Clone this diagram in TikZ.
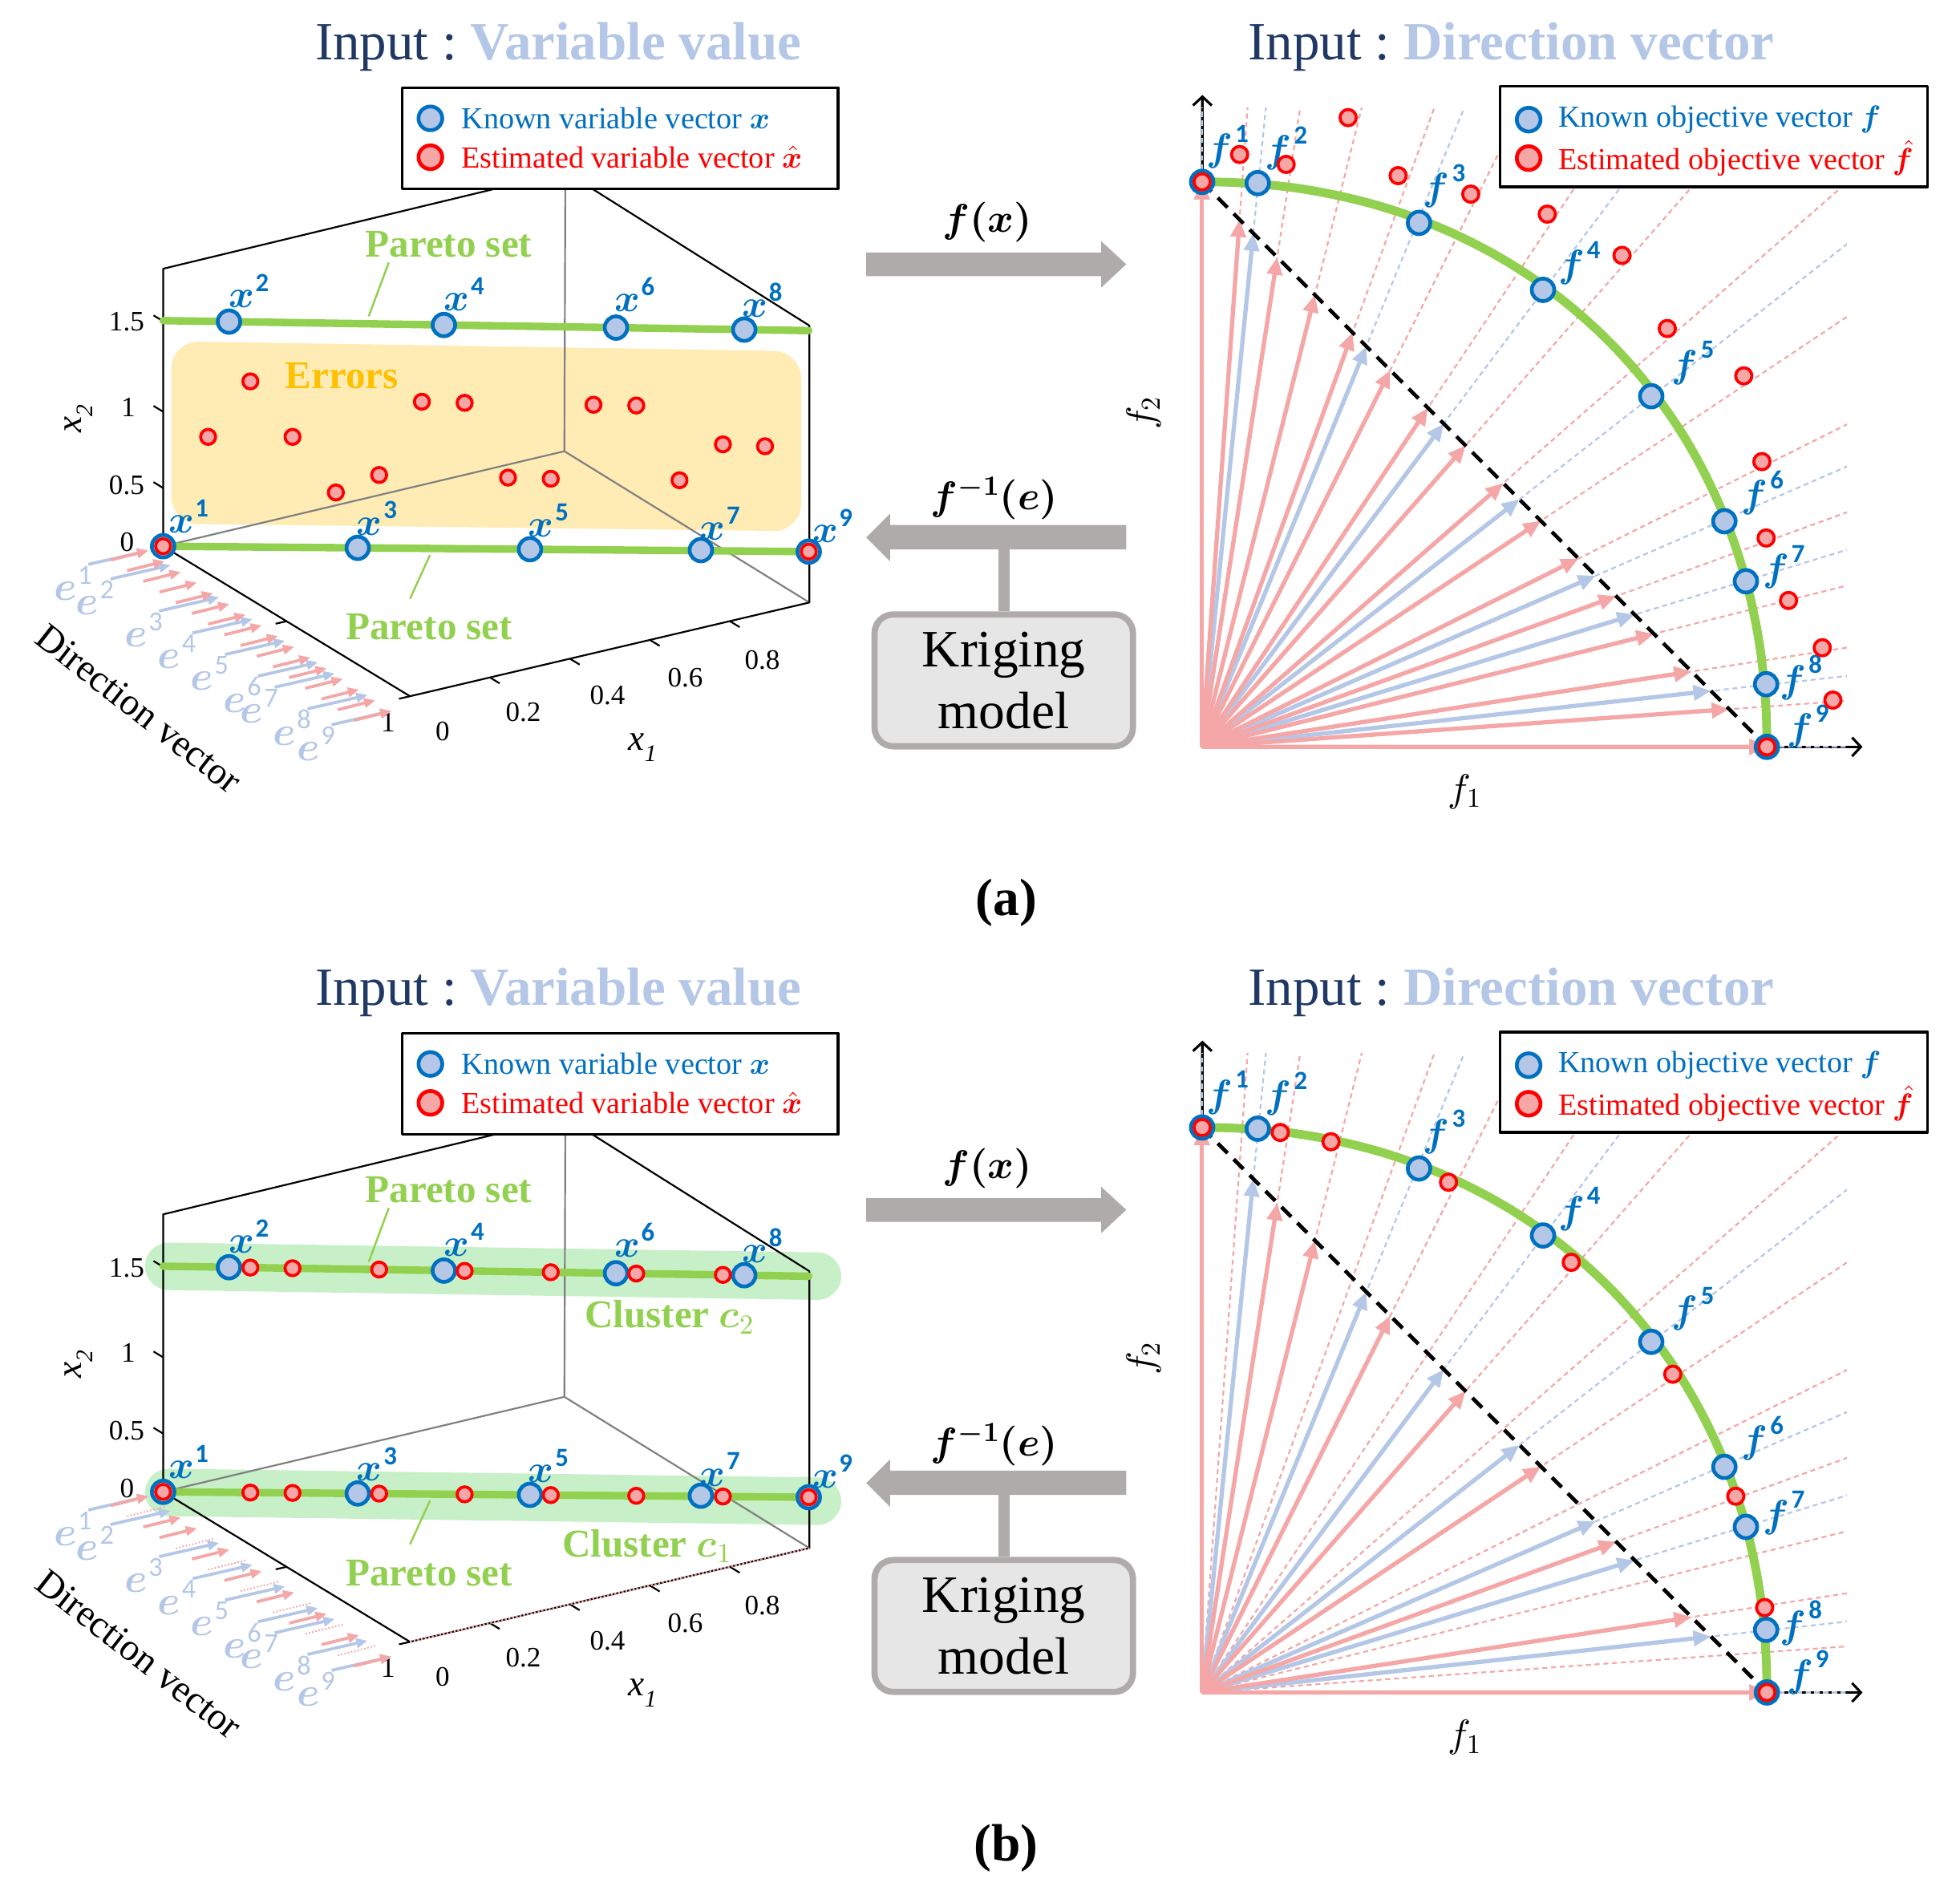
\documentclass[tikz,border=0pt]{standalone}
\usepackage{fontspec}
\setmainfont{Liberation Serif}
\newfontfamily\supfont{Carlito}
\DeclareFontShape{OML}{cmm}{m}{it}{<->cmmi10}{}
\DeclareFontShape{OML}{cmm}{b}{it}{<->cmmib10}{}
\DeclareFontShape{OT1}{cmr}{m}{n}{<->cmr10}{}
\DeclareFontShape{OT1}{cmr}{bx}{n}{<->cmbx10}{}
\DeclareFontShape{OMS}{cmsy}{m}{n}{<->cmsy10}{}
\DeclareFontShape{OMS}{cmsy}{b}{n}{<->cmbsy10}{}
\DeclareFontShape{OMX}{cmex}{m}{n}{<->cmex10}{}
\usepackage{bm}
\usepackage{graphicx}
\usetikzlibrary{arrows.meta,calc}
\pgfdeclarelayer{bg}
\pgfsetlayers{bg,main}
\definecolor{kblue}{RGB}{0,112,192}
\definecolor{kfill}{RGB}{180,199,231}
\definecolor{kred}{RGB}{255,0,0}
\definecolor{rfill}{RGB}{245,166,166}
\definecolor{pinkc}{RGB}{245,166,166}
\definecolor{lblue}{RGB}{180,199,231}
\definecolor{pgreen}{RGB}{146,208,80}
\definecolor{bandc}{RGB}{200,240,200}
\definecolor{errfill}{RGB}{255,235,180}
\definecolor{errtext}{RGB}{255,192,0}
\definecolor{garrow}{RGB}{175,171,171}
\definecolor{krfill}{RGB}{231,230,230}
\definecolor{navy}{RGB}{32,56,100}
\definecolor{axgrey}{RGB}{128,128,128}
\newcommand{\fsz}[1]{\fontsize{#1pt}{#1pt}\selectfont}
\newcommand{\vlab}[2]{$\bm{#1}$\kern1pt\raisebox{13pt}{\supfont\bfseries\fsz{21}#2}}
\newcommand{\flab}[2]{$\bm{#1}$\kern2pt\raisebox{15pt}{\supfont\bfseries\fsz{21}#2}}
\newcommand{\elabel}[2]{$\bm{#1}$\kern1pt\raisebox{13pt}{\supfont\fsz{22}#2}}
\tikzset{
  bpt/.style={circle,draw=kblue,fill=kfill,line width=3pt,minimum size=18pt,inner sep=0pt},
  lbpt/.style={bpt,minimum size=19pt},
  rpt/.style={circle,draw=kred,fill=rfill,line width=2.4pt,minimum size=12pt,inner sep=0pt},
  rptR/.style={rpt,minimum size=13pt},
  lrpt/.style={circle,draw=kred,fill=rfill,line width=3pt,minimum size=19pt,inner sep=0pt},
  ttl/.style={anchor=base,inner sep=0pt,font=\fsz{43}},
  lgd/.style={anchor=west,inner sep=0pt,font=\fsz{24.5}},
  ticklab/.style={inner sep=0pt,font=\fsz{22.5}},
  vlabst/.style={inner sep=0pt,text=kblue,font=\fsz{31}},
  elab/.style={inner sep=0pt,text=lblue,font=\fsz{33}},
  grnlab/.style={inner sep=0pt,text=pgreen,font=\fsz{31.5}\bfseries},
  boxline/.style={line width=1.4pt},
  backline/.style={line width=1.4pt,draw=axgrey},
  parline/.style={draw=pgreen,line width=6pt,line cap=round},
  leader/.style={draw=pgreen,line width=1.6pt},
  parrow/.style={draw=pinkc,line width=3.4pt,-{Triangle[length=14pt,width=12pt]}},
  barrow/.style={draw=lblue,line width=3.4pt,-{Triangle[length=14pt,width=12pt]}},
  pdash/.style={draw=pinkc,line width=1.4pt,dash pattern=on 4pt off 3pt},
  bdash/.style={draw=lblue,line width=1.4pt,dash pattern=on 4pt off 3pt},
  sparrow/.style={draw=pinkc,line width=2.4pt,-{Triangle[length=9pt,width=7.5pt]}},
  sbarrow/.style={draw=lblue,line width=2.4pt,-{Triangle[length=9pt,width=7.5pt]}},
  axarrow/.style={draw=black,line width=2pt,-{Straight Barb[length=7pt,width=15pt]}},
}
\begin{document}
\begin{tikzpicture}[x=1pt,y=-1pt,line join=round]
\useasboundingbox (0,0) rectangle (1568,1522);

\foreach \p/\dy/\plist in {a/0/{0,1,2,3,4,5,6,7,8,9,10,11,12,13,14,15},b/756.5/{0,2,3,5,7,9,11,13,15}}{
\begin{scope}[shift={(0,\dy)}]
% ---------------- left 3D box
\coordinate (A\p) at (130.5,437);
\coordinate (B\p) at (130.5,215);
\coordinate (D\p) at (452.3,137.5);
\coordinate (E\p) at (647.5,260.5);
\coordinate (F\p) at (647.5,482);
\coordinate (G\p) at (328,557);
\coordinate (H\p) at (451.5,361);
\draw[backline] (A\p) -- (H\p) -- (F\p) (H\p) -- (D\p);
\draw[boxline] (G\p) -- (A\p) -- (B\p) -- (D\p) -- (E\p) -- (F\p) -- (G\p);
% x2 ticks
\foreach \yy in {390.4,329.4,257}{\draw[boxline] (130.5,\yy) -- ++(-7.7,-4.7);}
\node[ticklab] (t0\p) at (101.6,434) {0};
\node[ticklab] (t05\p) at (101.3,388) {0.5};
\node[ticklab] (t1\p) at (102.6,326) {1};
\node[ticklab] (t15\p) at (101.3,257.7) {1.5};
% x1 ticks
\foreach \k in {0.2,0.4,0.6,0.8}{\draw[boxline] ({328+320*\k},{557-75*\k}) -- ++(7.7,4.7);}
\node[ticklab] (u0\p) at (354,585) {0};
\node[ticklab] (u2\p) at (418.6,569.7) {0.2};
\node[ticklab] (u4\p) at (486,556) {0.4};
\node[ticklab] (u6\p) at (548.2,542.1) {0.6};
\node[ticklab] (u8\p) at (609.8,527.8) {0.8};
% e ticks
\draw[boxline] (229.3,497) -- ++(-8.8,2);
\draw[boxline] (G\p) -- ++(-8.8,2);
\node[ticklab] (v1\p) at (310.5,578) {1};
% axis labels
\node[inner sep=0pt,font=\fsz{29}] (x1l\p) at (514,598) {\itshape x\raisebox{-0.3em}{\fsz{19}\itshape 1}};
\node[inner sep=0pt,font=\fsz{29},rotate=90] (x2l\p) at (63,335) {\itshape x\raisebox{-0.3em}{\fsz{19}\itshape 2}};
\node[inner sep=0pt,font=\fsz{30.5},rotate=-38] (dv\p) at (111,567) {Direction vector};
% small direction arrows (blue)
\foreach \s [count=\k] in {0,0.091,0.291,0.428,0.562,0.697,0.766,0.901,1}{
  \coordinate (sbh\p\k) at ({118.7+194.6*\s},{440.5+128.3*\s});
  \coordinate (sbt\p\k) at ($(sbh\p\k)+(-48,11)$);
  \draw[sbarrow] (sbt\p\k) -- (sbh\p\k);
  \node[elab] (el\p\k) at ($(sbt\p\k)+(-12.5,15)$) {\elabel{e}{\k}};
}
% small direction arrows (pink)
\foreach \i in \plist {
  \coordinate (sph\p\i) at ({118.7+12.97*\i},{440.5+8.553*\i});
  \coordinate (spt\p\i) at ($(sph\p\i)+(-30,7.5)$);
  \draw[sparrow] (spt\p\i) -- (sph\p\i);
}
% Pareto set lines
\coordinate (pl1\p) at (130.5,256.5);
\coordinate (pr1\p) at (647,264.5);
\coordinate (pl2\p) at (130.5,437);
\coordinate (pr2\p) at (647,441.3);
\draw[parline] (pl1\p) -- (pr1\p);
\draw[parline] (pl2\p) -- (pr2\p);
% known variable vectors
\foreach \n/\xx/\yy/\lx/\ly in {1/130.5/437/150.8/413.2, 3/286.2/438.3/301.5/414.7, 5/424/439.4/438.8/416.2, 7/560.7/440.1/576/419.1, 9/647/441.3/666/420.6, 2/183.2/257.3/199/232.6, 4/355.1/260/371.3/235.5, 6/492.8/262.1/507.6/235.5, 8/595.4/263.7/609.8/240}{
  \node[bpt] (x\p\n) at (\xx,\yy) {};
  \node[vlabst] (lx\p\n) at (\lx,\ly) {\vlab{x}{\n}};
}
\node[rpt] (xr\p1) at (x\p1) {};
\node[rpt] (xr\p9) at (x\p9) {};
% Pareto set labels
\node[grnlab] (ps1\p) at (358.9,195.5) {Pareto set};
\coordinate (la1\p) at (311,210);
\coordinate (lb1\p) at (295,253);
\draw[leader] (la1\p) -- (lb1\p);
\node[grnlab] (ps2\p) at (343.4,501.8) {Pareto set};
\coordinate (la2\p) at (344,444);
\coordinate (lb2\p) at (328,479);
\draw[leader] (la2\p) -- (lb2\p);
% legend left
\node[draw=black,line width=2.2pt,fill=white,minimum width=348.7pt,minimum height=81pt,inner sep=0pt] (lgl\p) at (496.2,110.6) {};
\node[lbpt] (lglb\p) at (344.3,94.7) {};
\node[lgd,text=kblue] (lglbt\p) at (369,94.7) {Known variable vector $\bm{x}$};
\node[lrpt] (lglr\p) at (344.3,125.8) {};
\node[lgd,text=kred] (lglrt\p) at (369,125.8) {Estimated variable vector $\hat{\bm{x}}$};
% title left
\node[ttl] (tl\p) at (446.7,48) {{\color{navy}Input~:~}{\color{lblue}\bfseries Variable value}};
% ---------------- middle
\fill[garrow] (693,202) -- (881,202) -- (881,193) -- (901,211.4) -- (881,230) -- (881,221) -- (693,221) -- cycle;
\node[inner sep=0pt,font=\fsz{32}] (fx\p) at (790,178) {$\bm{f(x)}$};
\fill[garrow] (901,420) -- (712,420) -- (712,411) -- (693,430) -- (712,449) -- (712,439.5) -- (901,439.5) -- cycle;
\node[inner sep=0pt,font=\fsz{32}] (fi\p) at (795.5,399) {$\bm{f^{-1}(e)}$};
\node[draw=garrow,line width=5pt,fill=krfill,rounded corners=15pt,minimum width=206.7pt,minimum height=105.5pt,inner sep=0pt,align=center,font=\fontsize{42pt}{49.5pt}\selectfont] (kr\p) at (803,544.3) {Kriging\\model};
\coordinate (st\p) at (803,438);
\draw[garrow,line width=9pt] (st\p) -- (kr\p.north);
% ---------------- right panel
\coordinate (O\p) at (961.5,597.5);
\coordinate (ft\p) at (961.9,76);
\coordinate (fr\p) at (1490,597.5);
\draw[axarrow] (O\p) -- (ft\p);
\draw[axarrow] (O\p) -- (fr\p);
\foreach \i in {0,...,15}{\coordinate (ph\p\i) at ({961.5+30.1333*\i},{145.5+30.1333*\i});}
\foreach \s [count=\k] in {0,0.091,0.291,0.428,0.562,0.697,0.766,0.901,1}{\coordinate (bh\p\k) at ({961.5+452*\s},{145.5+452*\s});}
\begin{scope}
  \clip (935,86.5) rectangle (1477.5,605);
  \foreach \i in {0,...,15}{\draw[pdash] (O\p) -- ($(O\p)!3!(ph\p\i)$);}
  \foreach \k in {1,...,9}{\draw[bdash] (O\p) -- ($(O\p)!3!(bh\p\k)$);}
\end{scope}
\foreach \k in {1,...,9}{\draw[barrow] (O\p) -- (bh\p\k);}
\foreach \i in \plist {\draw[parrow] (O\p) -- (ph\p\i);}
\draw[line width=3pt,dash pattern=on 11pt off 7pt] (ph\p0) -- (ph\p15);
\draw[draw=pgreen,line width=7pt] (1413.5,597.5) -- plot[domain=0.3:89.7,samples=80] ({961.5+452*pow(cos(\x),0.952)},{597.5-452*pow(sin(\x),0.952)}) -- (961.5,145.5);
\foreach \n/\xx/\yy/\lx/\ly in {1/961.7/145.5/982/117.6, 2/1006.2/146.5/1029/118.7, 3/1135.2/178.3/1155.5/149, 4/1234.4/231.9/1263.4/210.6, 5/1321/317/1354.4/290.4, 6/1379.5/417/1409.9/394.2, 7/1396.7/465/1427/453.8, 8/1412.9/547.4/1440.7/542, 9/1413.5/597.5/1446.3/581.4}{
  \node[bpt] (f\p\n) at (\xx,\yy) {};
  \node[vlabst] (lf\p\n) at (\lx,\ly) {\flab{f}{\n}};
}
\node[rptR] (fr\p1) at (f\p1) {};
\node[rptR] (fr\p9) at (f\p9) {};
\node[inner sep=0pt,font=\fsz{31}] (f1l\p) at (1171.6,633.6) {$f_1$};
\node[inner sep=0pt,font=\fsz{31},rotate=90] (f2l\p) at (915.3,330.4) {$f_2$};
% legend right
\node[draw=black,line width=2.2pt,fill=white,minimum width=342pt,minimum height=80.4pt,inner sep=0pt] (lgr\p) at (1371,109.3) {};
\node[lbpt] (lgrb\p) at (1222.9,95.7) {};
\node[lgd,text=kblue] (lgrbt\p) at (1246.5,95.7) {Known objective vector $\bm{f}$};
\node[lrpt] (lgrr\p) at (1222.9,126.5) {};
\node[lgd,text=kred] (lgrrt\p) at (1246.5,126.5) {Estimated objective vector $\hat{\bm{f}}$};
% title right
\node[ttl] (tr\p) at (1209,48) {{\color{navy}Input~:~}{\color{lblue}\bfseries Direction vector}};
% caption
\node[inner sep=0pt,font=\fsz{42}\bfseries] (cap\p) at (805,722) {(\p)};
\end{scope}
}

% ================= panel (a) specifics
\begin{pgfonlayer}{bg}
  \fill[errfill,rounded corners=22pt] (137,273) -- (641,281) -- (641,425) -- (137,419) -- cycle;
\end{pgfonlayer}
\node[grnlab,text=errtext] (err) at (273.5,301) {Errors};
\foreach \xx/\yy [count=\k] in {166.5/349.5, 200.3/305.1, 234/349.5, 268.7/394, 303.3/380, 337.5/321.4, 371.7/322.3, 406.4/382.1, 440.6/383, 474.8/323.8, 509/324.4, 543.6/384.2, 578.3/355.5, 612/357}{
  \node[rpt] (ra\k) at (\xx,\yy) {};
}
\foreach \xx/\yy [count=\k] in {991.7/123.6, 1028.9/131.5, 1078.5/94.1, 1118.5/140.5, 1176.6/155.3, 1237.8/171.3, 1297.6/204.3, 1333.8/262.8, 1395/300.7, 1409.5/369.3, 1412.9/430.4, 1430.8/480.4, 1457.8/518.2, 1466.3/560.1}{
  \node[rptR] (rra\k) at (\xx,\yy) {};
}

% ================= panel (b) specifics
\begin{scope}[shift={(0,756.5)}]
\begin{pgfonlayer}{bg}
  \coordinate (c2l) at (135,256.6);
  \coordinate (c2r) at (654,264.4);
  \coordinate (c1l) at (135,437.5);
  \coordinate (c1r) at (654,444.5);
  \draw[bandc,line width=38pt,line cap=round] (c2l) -- (c2r);
  \draw[bandc,line width=38pt,line cap=round] (c1l) -- (c1r);
\end{pgfonlayer}
\node[grnlab] (cl2) at (535.5,297.3) {Cluster $\bm{c}_2$};
\node[grnlab] (cl1) at (517.5,480.3) {Cluster $\bm{c}_1$};
\draw[pinkc,line width=1.5pt,dash pattern=on 1.5pt off 1.5pt] (Gb) -- (Fb);
\foreach \i in {1,4,6,8,10,12,14}{
  \coordinate (dph\i) at ({118.7+12.97*\i},{440.5+8.553*\i});
  \coordinate (dpt\i) at ($(dph\i)+(-30,7.5)$);
  \draw[pinkc,line width=1.2pt,dash pattern=on 1.2pt off 1.5pt] (dpt\i) -- (dph\i);
}
\foreach \xx/\yy [count=\k] in {200.3/257.58, 234/258.1, 303.3/259.18, 371.7/260.24, 440.6/261.3, 509/262.36, 578.3/263.44, 200.3/437.58, 234/437.86, 303.3/438.44, 371.7/439.0, 440.6/439.58, 509/440.15, 578.3/440.73}{
  \node[rpt] (rb\k) at (\xx,\yy) {};
}
\foreach \xx/\yy [count=\k] in {1024.2/149.5, 1064.8/156.9, 1158.8/189.3, 1257/253.4, 1338.2/342.9, 1388.6/440.5, 1411.7/529.6}{
  \node[rptR] (rrb\k) at (\xx,\yy) {};
}
\end{scope}
\end{tikzpicture}
\end{document}
